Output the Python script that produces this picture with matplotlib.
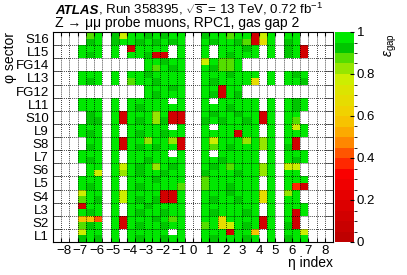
import numpy as np
import matplotlib
matplotlib.use('Agg')
import matplotlib.pyplot as plt
from matplotlib.colors import ListedColormap, BoundaryNorm
from matplotlib.transforms import ScaledTranslation

plt.rcParams['font.family'] = ['Liberation Sans', 'DejaVu Sans']
plt.rcParams['mathtext.fontset'] = 'custom'
plt.rcParams['mathtext.rm'] = 'Liberation Sans'
plt.rcParams['mathtext.it'] = 'Liberation Sans:italic'
plt.rcParams['mathtext.bf'] = 'Liberation Sans:bold'

# ---------------- data ----------------
eta_ticks = list(range(-8, 9))
eta_labels = ['\u2212%d' % -v if v < 0 else '%d' % v for v in eta_ticks]
x_edges = np.arange(-8.5, 8.51, 0.5)          # 34 bins (2 per eta index)
sectors = ['L1', 'S2', 'L3', 'S4', 'L5', 'S6', 'L7', 'S8',
           'L9', 'S10', 'L11', 'FG12', 'L13', 'FG14', 'L15', 'S16']
y_edges = np.arange(0, 16.01, 0.5)            # 32 bins (2 per sector)

# efficiency codes
code_values = {'.': np.nan, 'G': 0.975, 'd': 0.925, 'l': 0.875, 'm': 0.825,
               'y': 0.775, 'Y': 0.675, 'o': 0.56, 'O': 0.43, 'r': 0.37, 'R': 0.15}

# rows listed from top (S16 upper) to bottom (L1 lower); 34 columns eta -8.5..8.5
cell_codes = [
    "....lG.dyGGdGdGG..dGGlGGRyG.GG....",  # S16 upper
    "....dG.dGGdGdGdG..GdGGdlRYG.dG....",  # S16 lower
    "...GGG.G.RGGGG.G..G.GGGdG.G.dGR...",  # L15 upper
    "...GdG.G.GGdRR.G..G.GdGGG.G.dGR...",  # L15 lower
    "...........GGdGG..yGllG...........",  # FG14 upper
    "...........GlGdG..GdllG...........",  # FG14 lower
    "...GGG.G.GGdGGGG..GGGdGGG.G.GdG...",  # L13 upper
    "...GdG.G.lGGdGGG..GdGGGGY.G.GGd...",  # L13 lower
    "...........GGGdG..GGRGG...........",  # FG12 upper
    "...........GdGGG..GdRGd...........",  # FG12 lower
    "...GGG.G.GGGGG.G..G.GGGGG.G.GdG...",  # L11 upper
    "...GGG.G.GdGGGGG..GGGdGGG.G.GdG...",  # L11 lower
    "....dG.GRGGGmGRR..GdGGdGGRG.GG....",  # S10 upper
    "....dd.GRGdGmdRR..dGdGGdGRG.Gl....",  # S10 lower
    "...GGG.G.GGGGG.G..G.GGGGG.G.GyG...",  # L9 upper
    "...GdG.G.GdGGdGG..GGGGRGG.G.GGG...",  # L9 lower
    "....GG.GRGGmGGmR..GyGGGmGmG.GR....",  # S8 upper
    "....dG.GRGdGdGGR..GlGdGGGmG.dR....",  # S8 lower
    "...GGG.G.GGGGG.G..G.GGGGG.G.GGG...",  # L7 upper
    "...GdG.G.GGdGGGG..GGdGGGG.G.GdG...",  # L7 lower
    "....GG.GyGdGmGdG..GdGlGGGmG.yy....",  # S6 upper
    "....Gy.GmGdGGdGG..dGGGdGGmG.GG....",  # S6 lower
    "...GGG.G.GGGdGGG..lGGGGGG.G.GGG...",  # L5 upper
    "...GdG.G.GdGGGGl..lGGdGGG.G.GrR...",  # L5 lower
    "...yGG.GyGGGGRRG..GGGdGGGYG.mG....",  # S4 upper
    "...lGd.GyGdGdRRG..GdGGdGGYG.GG....",  # S4 lower
    "...RGG.G.GGdGGGG..GGGGGGG.G.GGG...",  # L3 upper
    "...GdG.G.GdGGdGG..GdGGGdG.G.GRG...",  # L3 lower
    "...ooO.GRGGGdGlG..GGYGGGGRG.GR....",  # S2 upper
    "...ldG.GRGdGGdGG..lGYyGdGRG.dR....",  # S2 lower
    "...yGG.G.GGGGG.G..GGGRGGo.G.GGy...",  # L1 upper
    "...dGd.G.GdGGdGG..GdGGGdG.G.dGG...",  # L1 lower
]

palette = [(190, 0, 0), (200, 0, 0), (210, 0, 0), (220, 0, 0), (230, 0, 0),
           (240, 0, 0), (250, 0, 0), (255, 40, 0), (255, 85, 0), (255, 135, 0),
           (252, 170, 0), (247, 195, 0), (240, 210, 0), (230, 220, 0), (220, 228, 0),
           (205, 238, 0), (150, 230, 0), (85, 222, 0), (0, 198, 0), (0, 232, 0)]

# ---------------- figure ----------------
W, H = 407, 275
fig = plt.figure(figsize=(W / 100, H / 100), dpi=100)
ax = fig.add_axes([53 / W, 1 - 242 / H, 280 / W, 210 / H])

Z = np.array([[code_values[c] for c in row] for row in cell_codes[::-1]])
Z = np.ma.masked_invalid(Z)
cmap = ListedColormap([tuple(v / 255 for v in c) for c in palette])
cmap.set_bad('white')
norm = BoundaryNorm(np.linspace(0, 1, 21), cmap.N)
mesh = ax.pcolormesh(x_edges, y_edges, Z, cmap=cmap, norm=norm, zorder=1)

ax.set_xlim(x_edges[0], x_edges[-1])
ax.set_ylim(y_edges[0], y_edges[-1])

# grid (dotted) at every eta bin edge and every sector boundary
for xv in x_edges[1:-1]:
    ax.axvline(xv, color='k', lw=0.6, ls=(0, (1, 1.5)), zorder=2)
for yv in range(1, len(sectors)):
    ax.axhline(yv, color='k', lw=0.6, ls=(0, (1, 1.5)), zorder=2)

ax.set_xticks(eta_ticks)
ax.set_xticklabels(eta_labels, fontsize=9.5)
ax.set_xticks(x_edges[1:-1], minor=True)
ax.set_yticks(np.arange(len(sectors)) + 0.5)
ax.set_yticklabels(sectors, fontsize=9.5)
ax.set_yticks(np.arange(1, len(sectors)), minor=True)
ax.tick_params(axis='x', which='both', direction='in', length=3, top=True, pad=2)
ax.tick_params(axis='y', which='major', length=0, pad=3)
ax.tick_params(axis='y', which='minor', direction='in', length=6, right=True,
               color='0.4')
for lab, v in zip(ax.get_xticklabels(), eta_ticks):
    if v < 0:
        lab.set_transform(lab.get_transform() +
                          ScaledTranslation(2.5 / 100, 0, fig.dpi_scale_trans))
for sp in ax.spines.values():
    sp.set_linewidth(0.8)
    sp.set_zorder(3)

# colour bar
cax = fig.add_axes([335 / W, 1 - 242 / H, 19 / W, 210 / H])
cb = fig.colorbar(mesh, cax=cax, ticks=[0, 0.2, 0.4, 0.6, 0.8, 1.0])
cb.outline.set_visible(False)
cb.ax.set_yticklabels(['0', '0.2', '0.4', '0.6', '0.8', '1'])
cax.tick_params(direction='in', length=3, labelsize=9.5, pad=2)

# labels
fig.text(10 / W, 1 - 32 / H, '\u03c6 sector', rotation=90, ha='center',
         va='top', fontsize=10)
fig.text(333 / W, 1 - 263 / H, '\u03b7 index', ha='right', va='center',
         fontsize=10)
fig.text(391 / W, 1 - 33 / H, r'$\varepsilon_{\mathrm{gap}}$', rotation=90,
         ha='center', va='top', fontsize=10)

# header
t1 = fig.text(55 / W, 1 - 13.5 / H, 'ATLAS', fontweight='bold', fontstyle='italic',
              fontsize=9.6, va='baseline')
fig.canvas.draw()
bb = t1.get_window_extent(fig.canvas.get_renderer())
fig.text(bb.x1 / fig.bbox.width, 1 - 13.5 / H,
         r', Run 358395, $\sqrt{\mathrm{s}}$ = 13 TeV, 0.72 fb$^{-1}$',
         fontsize=9.6, va='baseline')
fig.text(55 / W, 1 - 27.5 / H, 'Z \u2192 \u03bc\u03bc probe muons, RPC1, gas gap 2',
         fontsize=10, va='baseline')

fig.savefig('out.png', dpi=100)
